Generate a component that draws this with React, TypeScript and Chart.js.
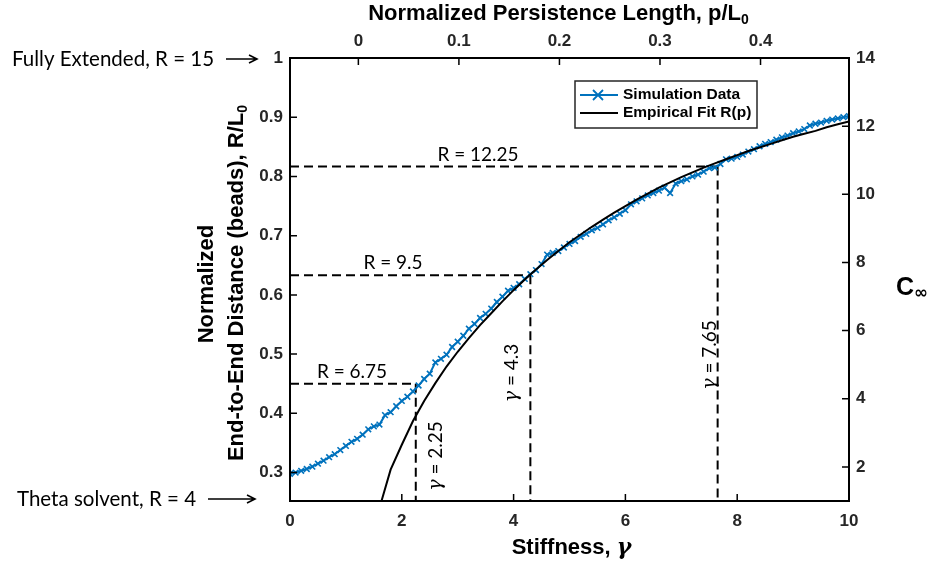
import React, { useEffect, useRef } from 'react';
import { Chart, registerables } from 'chart.js';

Chart.register(...registerables);

// ---------------- DATA ----------------
const stiffness = [
  0, 0.1, 0.2, 0.3, 0.4, 0.5, 0.6, 0.7, 0.8, 0.9,
  1, 1.1, 1.2, 1.3, 1.4, 1.5, 1.6, 1.7, 1.8, 1.9,
  2, 2.1, 2.2, 2.3, 2.4, 2.5, 2.6, 2.7, 2.8, 2.9,
  3, 3.1, 3.2, 3.3, 3.4, 3.5, 3.6, 3.7, 3.8, 3.9,
  4, 4.1, 4.2, 4.3, 4.4, 4.5, 4.6, 4.7, 4.8, 4.9,
  5, 5.1, 5.2, 5.3, 5.4, 5.5, 5.6, 5.7, 5.8, 5.9,
  6, 6.1, 6.2, 6.3, 6.4, 6.5, 6.6, 6.7, 6.8, 6.9,
  7, 7.1, 7.2, 7.3, 7.4, 7.5, 7.6, 7.7, 7.8, 7.9,
  8, 8.1, 8.2, 8.3, 8.4, 8.5, 8.6, 8.7, 8.8, 8.9,
  9, 9.1, 9.2, 9.3, 9.4, 9.5, 9.6, 9.7, 9.8, 9.9,
  10,
];
const simulationR = [
  0.298, 0.300, 0.303, 0.306, 0.310, 0.315, 0.320, 0.326, 0.331, 0.338,
  0.345, 0.352, 0.357, 0.364, 0.373, 0.378, 0.381, 0.397, 0.402, 0.412,
  0.421, 0.428, 0.437, 0.447, 0.458, 0.467, 0.486, 0.492, 0.499, 0.512,
  0.521, 0.531, 0.543, 0.551, 0.561, 0.568, 0.577, 0.588, 0.597, 0.607,
  0.612, 0.618, 0.627, 0.635, 0.642, 0.652, 0.668, 0.671, 0.674, 0.680,
  0.686, 0.691, 0.698, 0.703, 0.709, 0.713, 0.719, 0.726, 0.731, 0.737,
  0.743, 0.753, 0.758, 0.763, 0.768, 0.772, 0.776, 0.781, 0.772, 0.788,
  0.792, 0.795, 0.800, 0.803, 0.808, 0.814, 0.815, 0.821, 0.829, 0.830,
  0.833, 0.837, 0.842, 0.846, 0.851, 0.855, 0.858, 0.862, 0.866, 0.869,
  0.873, 0.876, 0.880, 0.886, 0.889, 0.891, 0.894, 0.896, 0.898, 0.900,
  0.902,
];
const fitStiffness = [
  1.6, 1.8, 2.0, 2.2, 2.4, 2.6, 2.8, 3.0, 3.2, 3.4, 3.6, 3.8, 4.0, 4.2, 4.4,
  4.6, 4.8, 5.0, 5.2, 5.4, 5.6, 5.8, 6.0, 6.2, 6.4, 6.6, 6.8, 7.0, 7.2, 7.4,
  7.6, 7.8, 8.0, 8.2, 8.4, 8.6, 8.8, 9.0, 9.2, 9.4, 9.6, 9.8, 10.0,
];
const fitR = [
  0.240, 0.305, 0.347, 0.387, 0.421, 0.451, 0.479, 0.504, 0.527, 0.549, 0.569, 0.589, 0.608, 0.626, 0.643,
  0.659, 0.674, 0.689, 0.702, 0.715, 0.727, 0.739, 0.750, 0.761, 0.771, 0.781, 0.790, 0.799, 0.807, 0.815,
  0.822, 0.829, 0.836, 0.843, 0.849, 0.855, 0.861, 0.867, 0.872, 0.877, 0.883, 0.888, 0.893,
];
const xTicks = [0, 2, 4, 6, 8, 10];
const yTicks = [0.3, 0.4, 0.5, 0.6, 0.7, 0.8, 0.9, 1];
const persistenceTicks = [0, 0.1, 0.2, 0.3, 0.4];
const cInfTicks = [2, 4, 6, 8, 10, 12, 14];
const rLevels = [6.75, 9.5, 12.25];
const gammaLevels = [2.25, 4.3, 7.65];
const rFull = 15;
const rTheta = 4;

const X_MIN = 0, X_MAX = 10;
const Y_MIN = 0.252, Y_MAX = 1;
const P_MIN = -0.068, P_MAX = 0.488;
const C_MIN = 1, C_MAX = 14;

// ---------------- STYLE ----------------
const AX = '"Liberation Sans", Arial, sans-serif';
const ANN = 'Lato, "Open Sans", sans-serif';
const TICK_COLOR = '#262626';
const BLUE = '#0072BD';

type Part = { text: string; font: string; dy?: number };

function drawRich(ctx: CanvasRenderingContext2D, parts: Part[], x: number, y: number, align: 'left' | 'center') {
  let total = 0;
  parts.forEach((p) => { ctx.font = p.font; total += ctx.measureText(p.text).width; });
  let cx = align === 'center' ? x - total / 2 : x;
  ctx.textAlign = 'left';
  ctx.textBaseline = 'middle';
  parts.forEach((p) => {
    ctx.font = p.font;
    ctx.fillText(p.text, cx, y + (p.dy || 0));
    cx += ctx.measureText(p.text).width;
  });
  return total;
}

function drawArrow(ctx: CanvasRenderingContext2D, x1: number, x2: number, y: number) {
  ctx.beginPath();
  ctx.moveTo(x1, y);
  ctx.lineTo(x2, y);
  ctx.moveTo(x2 - 8, y - 4);
  ctx.lineTo(x2, y);
  ctx.lineTo(x2 - 8, y + 4);
  ctx.lineWidth = 1.6;
  ctx.strokeStyle = '#000';
  ctx.stroke();
}

const decorPlugin = {
  id: 'decor',
  afterDatasetsDraw(chart: any) {
    const { ctx, chartArea, scales } = chart;
    const { left, right, top, bottom } = chartArea;
    ctx.save();
    // inward ticks
    const tl = 7;
    ctx.strokeStyle = '#000';
    ctx.lineWidth = 1.5;
    ctx.beginPath();
    xTicks.forEach((v) => { const p = scales.x.getPixelForValue(v); ctx.moveTo(p, bottom); ctx.lineTo(p, bottom - tl); });
    persistenceTicks.forEach((v) => { const p = scales.x2.getPixelForValue(v); ctx.moveTo(p, top); ctx.lineTo(p, top + tl); });
    yTicks.forEach((v) => { const p = scales.y.getPixelForValue(v); ctx.moveTo(left, p); ctx.lineTo(left + tl, p); });
    cInfTicks.forEach((v) => { const p = scales.y2.getPixelForValue(v); ctx.moveTo(right, p); ctx.lineTo(right - tl, p); });
    ctx.stroke();
    // box
    ctx.lineWidth = 2;
    ctx.strokeRect(left, top, right - left, bottom - top);

    // annotation text: horizontal labels
    ctx.fillStyle = '#000';
    const hLabelX = [352, 393, 478];
    rLevels.forEach((r, i) => {
      const y = scales.y.getPixelForValue(r / rFull) - 12;
      drawRich(ctx, [{ text: 'R = ' + r, font: `19px ${ANN}` }], hLabelX[i], y, 'center');
    });
    // rotated gamma labels
    const vOff = [20, -18, -8];
    const vCenter = [456, 373, 355];
    gammaLevels.forEach((g, i) => {
      const x = scales.x.getPixelForValue(g) + vOff[i];
      ctx.save();
      ctx.translate(x, vCenter[i]);
      ctx.rotate(-Math.PI / 2);
      drawRich(ctx, [
        { text: 'γ', font: `italic 19px "DejaVu Serif", serif` },
        { text: ' = ' + g, font: `19px ${ANN}` },
      ], 0, 0, 'center');
      ctx.restore();
    });

    // legend
    const lx = 575, ly = 81, lw = 182, lh = 47;
    ctx.fillStyle = '#fff';
    ctx.fillRect(lx, ly, lw, lh);
    ctx.strokeStyle = '#262626';
    ctx.lineWidth = 1.5;
    ctx.strokeRect(lx, ly, lw, lh);
    const r1 = 95, r2 = 113;
    ctx.beginPath();
    ctx.moveTo(580, r1); ctx.lineTo(618, r1);
    ctx.strokeStyle = BLUE; ctx.lineWidth = 2; ctx.stroke();
    ctx.beginPath();
    ctx.moveTo(593, r1 - 5); ctx.lineTo(603, r1 + 5);
    ctx.moveTo(593, r1 + 5); ctx.lineTo(603, r1 - 5);
    ctx.lineWidth = 1.8;
    ctx.stroke();
    ctx.beginPath();
    ctx.moveTo(580, r2); ctx.lineTo(618, r2);
    ctx.strokeStyle = '#000'; ctx.lineWidth = 2; ctx.stroke();
    ctx.fillStyle = '#000';
    drawRich(ctx, [{ text: 'Simulation Data', font: `bold 15.5px ${AX}` }], 623, r1, 'left');
    drawRich(ctx, [{ text: 'Empirical Fit R(p)', font: `bold 15.5px ${AX}` }], 623, r2, 'left');
    ctx.restore();
  },
  afterDraw(chart: any) {
    const { ctx, chartArea } = chart;
    const { left, right, top, bottom } = chartArea;
    const midX = (left + right) / 2;
    ctx.save();
    ctx.fillStyle = '#000';
    // top title
    drawRich(ctx, [
      { text: 'Normalized Persistence Length, p/L', font: `bold 22px ${AX}` },
      { text: '0', font: `bold 14px ${AX}`, dy: 6 },
    ], midX - 11, 14, 'center');
    // bottom title
    drawRich(ctx, [
      { text: 'Stiffness, ', font: `bold 22px ${AX}` },
      { text: 'γ', font: `bold italic 22px "DejaVu Serif", serif` },
    ], midX + 2, 548, 'center');
    // right title
    drawRich(ctx, [
      { text: 'C', font: `bold 25px ${AX}` },
      { text: '∞', font: `bold 17px "DejaVu Sans", sans-serif`, dy: 6 },
    ], 896, 288, 'left');
    // left title (rotated, two lines)
    ctx.save();
    ctx.translate(207, 284);
    ctx.rotate(-Math.PI / 2);
    drawRich(ctx, [{ text: 'Normalized', font: `bold 22px ${AX}` }], 0, 0, 'center');
    ctx.restore();
    ctx.save();
    ctx.translate(237, 283);
    ctx.rotate(-Math.PI / 2);
    drawRich(ctx, [
      { text: 'End-to-End Distance (beads), R/L', font: `bold 22px ${AX}` },
      { text: '0', font: `bold 14px ${AX}`, dy: 6 },
    ], 0, 0, 'center');
    ctx.restore();
    // side annotations
    drawRich(ctx, [{ text: 'Fully Extended, R = ' + rFull, font: `20.5px ${ANN}` }], 12, top + 1, 'left');
    drawArrow(ctx, 226, 257, top + 1);
    drawRich(ctx, [{ text: 'Theta solvent, R = ' + rTheta, font: `20.5px ${ANN}` }], 17, bottom - 2, 'left');
    drawArrow(ctx, 208, 255, bottom - 2);
    ctx.restore();
  },
};

function fmt1(v: number) {
  return v === 0 ? '0' : v === 1 ? '1' : v.toFixed(1);
}

export default function App() {
  const ref = useRef<HTMLCanvasElement | null>(null);
  useEffect(() => {
    if (!ref.current) return;
    const tickFont = { family: AX, size: 17, weight: 'bold' as const };
    const dashed = (pts: { x: number; y: number }[], label: string) => ({
      label,
      data: pts,
      borderColor: '#000',
      borderWidth: 2,
      borderDash: [9, 5],
      pointRadius: 0,
      xAxisID: 'x',
      yAxisID: 'y',
    });
    const datasets: any[] = [
      {
        label: 'Empirical Fit R(p)',
        data: fitStiffness.map((g, i) => ({ x: g, y: fitR[i] })),
        borderColor: '#000',
        borderWidth: 2,
        pointRadius: 0,
        xAxisID: 'x',
        yAxisID: 'y',
      },
      {
        label: 'Simulation Data',
        data: stiffness.map((g, i) => ({ x: g, y: simulationR[i] })),
        borderColor: BLUE,
        borderWidth: 2,
        pointStyle: 'crossRot',
        pointRadius: 4,
        pointBorderWidth: 1.6,
        pointBorderColor: BLUE,
        pointBackgroundColor: BLUE,
        xAxisID: 'x',
        yAxisID: 'y',
      },
      ...rLevels.map((r, i) => dashed([{ x: X_MIN, y: r / rFull }, { x: gammaLevels[i], y: r / rFull }], 'h' + i)),
      ...rLevels.map((r, i) => dashed([{ x: gammaLevels[i], y: r / rFull }, { x: gammaLevels[i], y: Y_MIN }], 'v' + i)),
    ];
    const common = {
      grid: { display: false, drawTicks: false },
      border: { display: false },
    };
    const chart = new Chart(ref.current, {
      type: 'line',
      data: { datasets },
      options: {
        animation: false,
        responsive: true,
        maintainAspectRatio: false,
        layout: { padding: 0 },
        plugins: { legend: { display: false }, tooltip: { enabled: false } },
        scales: {
          x: {
            type: 'linear', position: 'bottom', min: X_MIN, max: X_MAX, ...common,
            afterBuildTicks: (s: any) => { s.ticks = xTicks.map((v) => ({ value: v })); },
            afterFit: (s: any) => { s.height = 68; },
            ticks: { padding: 10, color: TICK_COLOR, font: tickFont, maxRotation: 0, callback: (v: any) => String(v) },
          },
          x2: {
            type: 'linear', position: 'top', min: P_MIN, max: P_MAX, ...common,
            afterBuildTicks: (s: any) => { s.ticks = persistenceTicks.map((v) => ({ value: v })); },
            afterFit: (s: any) => { s.height = 58; },
            ticks: { padding: 6, color: TICK_COLOR, font: tickFont, maxRotation: 0, callback: (v: any) => fmt1(v) },
          },
          y: {
            type: 'linear', position: 'left', min: Y_MIN, max: Y_MAX, ...common,
            afterBuildTicks: (s: any) => { s.ticks = yTicks.map((v) => ({ value: v })); },
            afterFit: (s: any) => { s.width = 290; },
            ticks: { padding: 7, color: TICK_COLOR, font: tickFont, callback: (v: any) => fmt1(v) },
          },
          y2: {
            type: 'linear', position: 'right', min: C_MIN, max: C_MAX, ...common,
            afterBuildTicks: (s: any) => { s.ticks = cInfTicks.map((v) => ({ value: v })); },
            afterFit: (s: any) => { s.width = 79; },
            ticks: { padding: 7, color: TICK_COLOR, font: tickFont, callback: (v: any) => String(v) },
          },
        },
      } as any,
      plugins: [decorPlugin],
    });
    return () => chart.destroy();
  }, []);
  return (
    <div style={{ position: 'fixed', left: 0, top: 0, width: 928, height: 569, background: '#fff' }}>
      <canvas ref={ref} />
    </div>
  );
}
